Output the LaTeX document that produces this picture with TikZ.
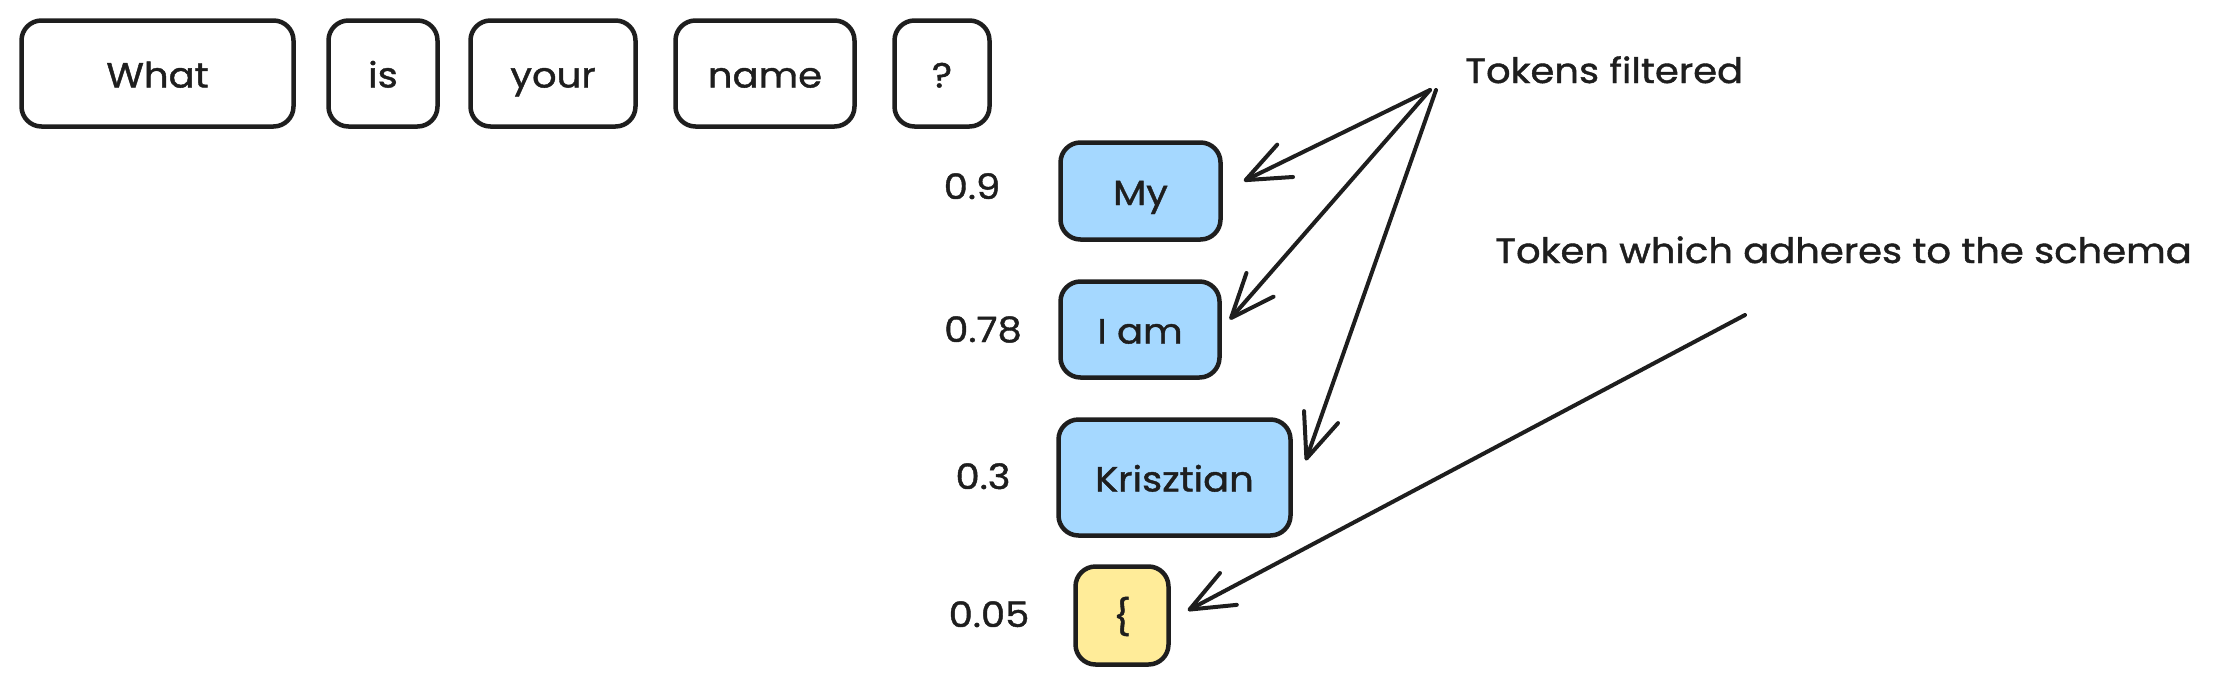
\documentclass[tikz,border=0pt]{standalone}
\usepackage{fontspec}
\setmainfont{Poppins}[FakeStretch=1.1,FakeBold=1.2]
\usetikzlibrary{arrows.meta,calc}
\definecolor{ink}{HTML}{1E1E1E}
\definecolor{bluefill}{HTML}{A5D8FF}
\definecolor{yellowfill}{HTML}{FFEC99}
\begin{document}
\begin{tikzpicture}[x=1pt,y=-1pt,
  txt/.style={font=\fontsize{35}{42}\selectfont, text=ink},
  box/.style={txt, draw=ink, line width=4.5pt, rounded corners=20pt, inner sep=0pt, text height=31pt, text depth=3pt},
  word/.style={box, fill=white},
  cand/.style={box, fill=bluefill},
  pick/.style={box, fill=yellowfill},
  lbl/.style={txt, inner sep=0pt},
  arr/.style={draw=ink, line width=4pt, line cap=round, -{Straight Barb[length=44pt,width=36pt,round]}}]
\useasboundingbox (0,0) rectangle (2214,686);
% question words
\node[word, minimum width=272pt, minimum height=106pt] (what) at (157.5,73.5) {What};
\node[word, minimum width=109pt, minimum height=106pt] (is) at (383,73.5) {is};
\node[word, minimum width=165pt, minimum height=106pt] (your) at (553,73.5) {your};
\node[word, minimum width=179pt, minimum height=106pt] (name) at (765,73.5) {name};
\node[word, minimum width=95pt, minimum height=106pt] (qm) at (942,73.5) {?};
% candidate tokens
\node[cand, minimum width=160pt, minimum height=97pt] (my) at (1140.5,191) {My};
\node[cand, minimum width=159pt, minimum height=96pt] (iam) at (1140,329.5) {I am};
\node[cand, minimum width=232pt, minimum height=116pt] (kr) at (1174.5,477.5) {Krisztian};
\node[pick, minimum width=93pt, minimum height=98pt] (brace) at (1122,615.5) {\{};
% probabilities
\node[lbl, anchor=base] (p1) at (972,199) {0.9};
\node[lbl, anchor=base] (p2) at (983,342) {0.78};
\node[lbl, anchor=base] (p3) at (983,489) {0.3};
\node[lbl, anchor=base] (p4) at (989,627) {0.05};
% annotations
\node[lbl, anchor=base west] (tf) at (1465,83) {Tokens filtered};
\node[lbl, anchor=base west] (sc) at (1495,263) {Token which adheres to the schema};
% arrow ends
\coordinate (src1) at ($(tf.base west)+(-35,7)$);
\coordinate (src2) at ($(tf.base west)+(-29,7)$);
\coordinate (src4) at ($(sc.base west)+(250,52)$);
\coordinate (t1) at ($(my.east)+(21,-10)$);
\coordinate (t2) at ($(iam.east)+(8,-10)$);
\coordinate (t3) at ($(kr.east)+(13,-17)$);
\coordinate (t4) at ($(brace.east)+(17,-5)$);
\draw[arr] (src1) -- (t1);
\draw[arr] (src1) -- (t2);
\draw[arr] (src2) -- (t3);
\draw[arr] (src4) -- (t4);
\end{tikzpicture}
\end{document}
